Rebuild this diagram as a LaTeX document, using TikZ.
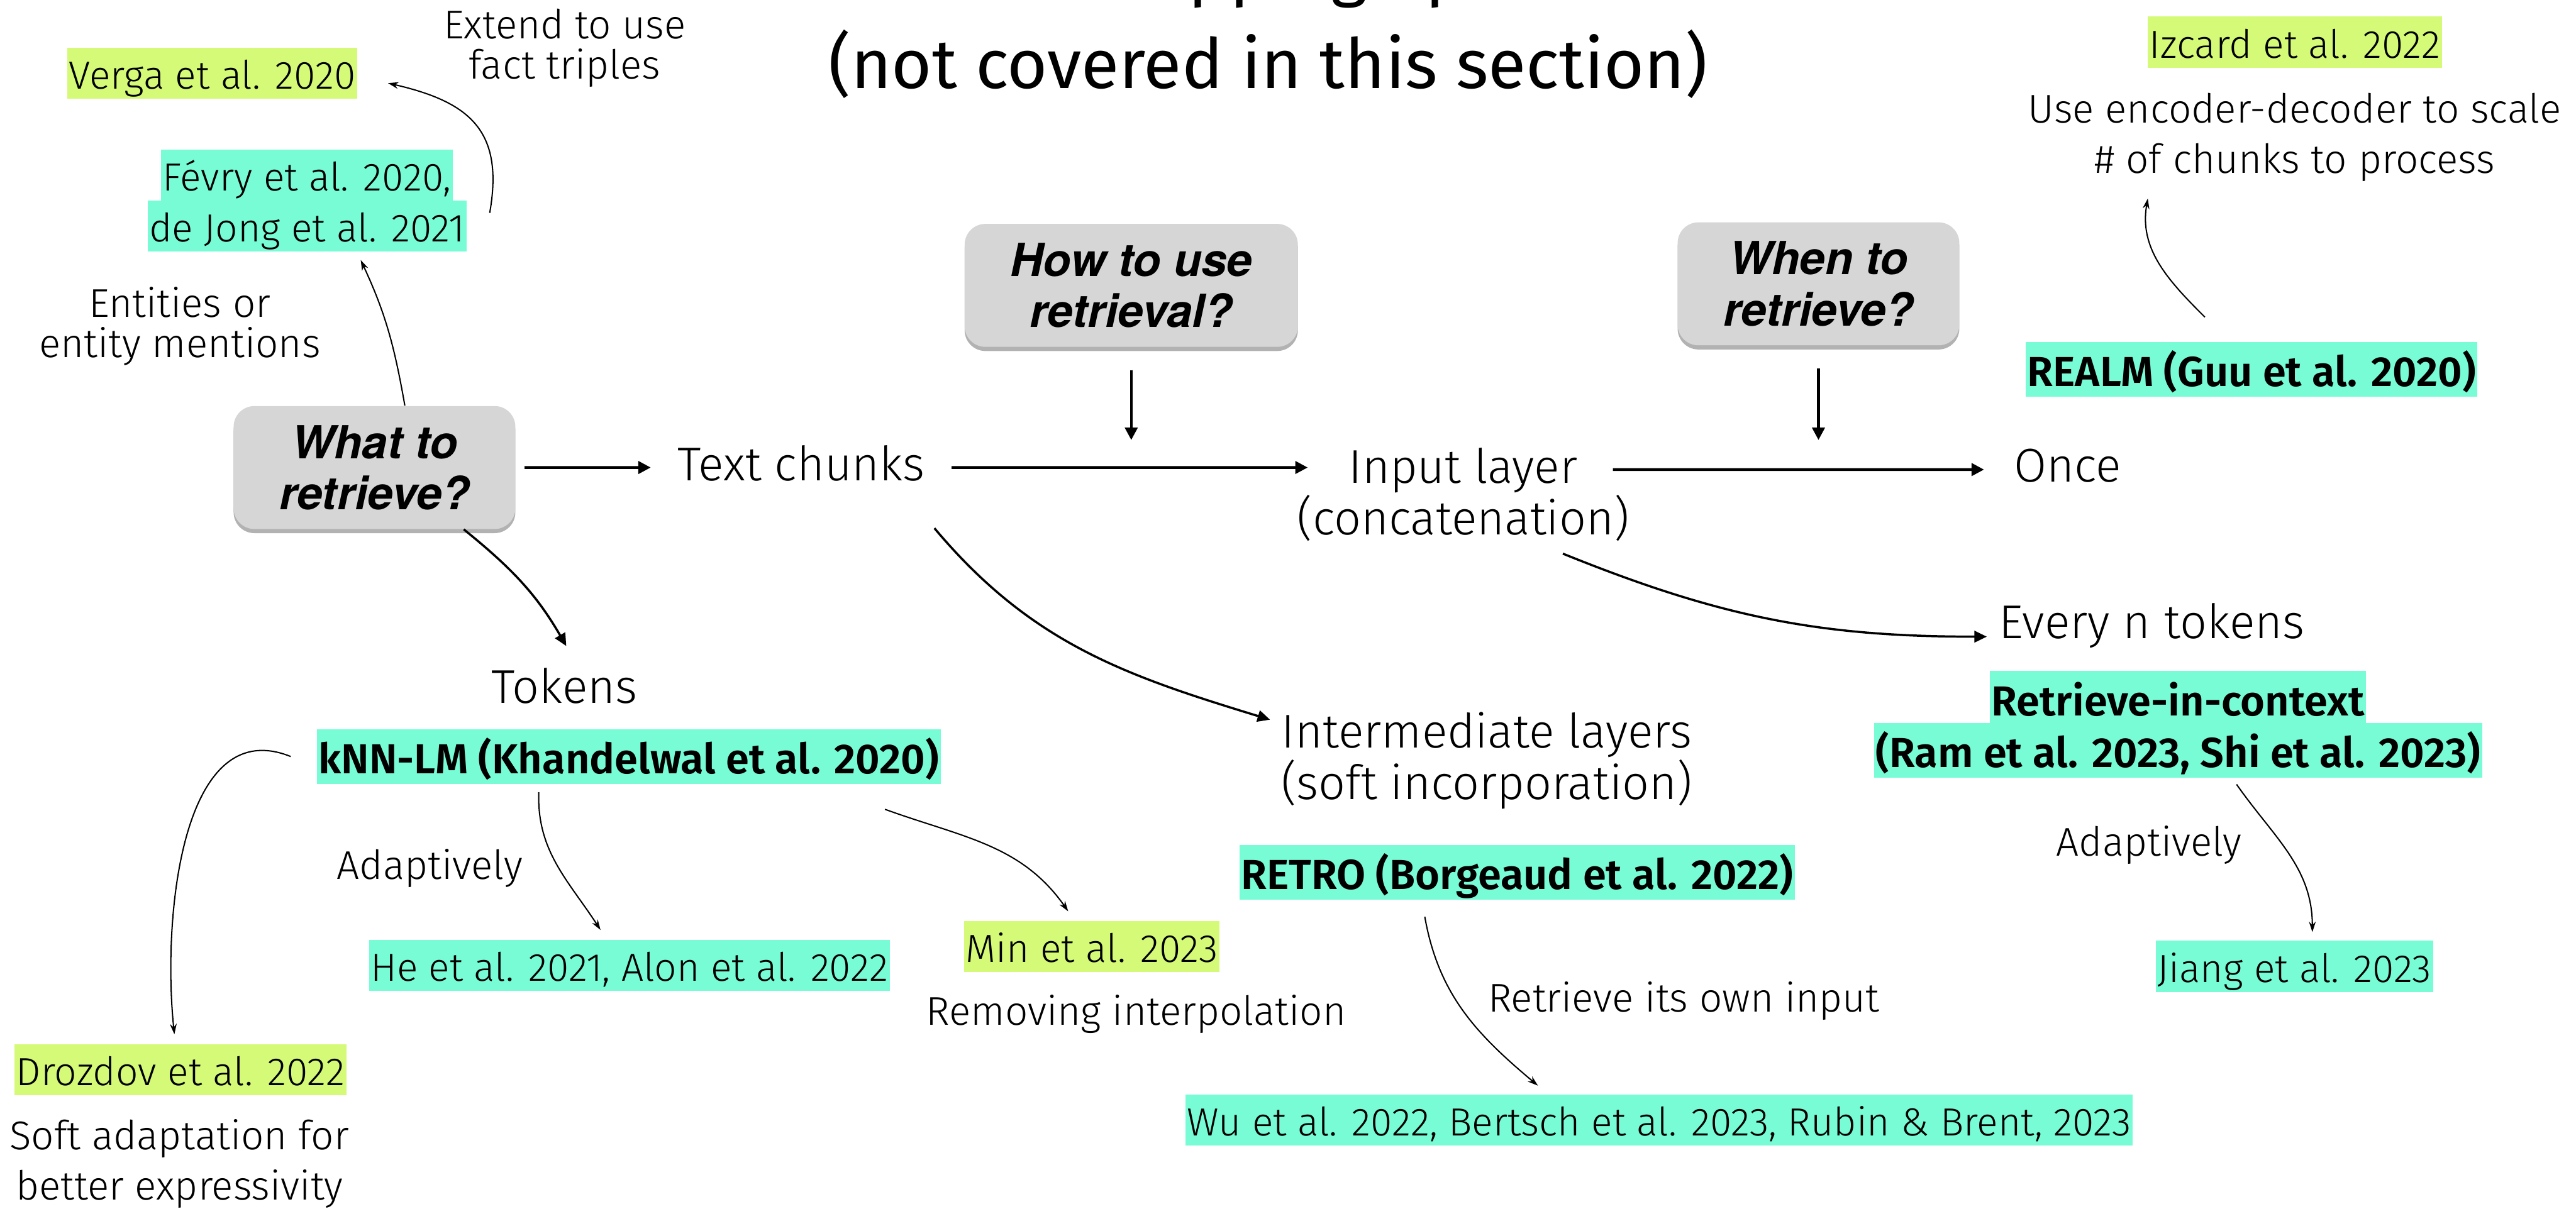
\documentclass[tikz,border=0pt]{standalone}
\usepackage{fontspec}
\IfFontExistsTF{Fira Sans Light}{\setmainfont{Fira Sans Light}}{%
  \IfFontExistsTF{Lato Light}{\setmainfont{Lato Light}}{%
    \IfFontExistsTF{Open Sans Light}{\setmainfont{Open Sans Light}}{\setmainfont{Fira Sans}}}}
\IfFontExistsTF{Fira Sans SemiBold}{\newfontfamily\heavyfont{Fira Sans SemiBold}}{\newfontfamily\heavyfont{Fira Sans}[FakeBold=1.5]}
\newfontfamily\titlefont{Fira Sans}
\newfontfamily\askfont{TeX Gyre Heros}
\usepackage{tikz}
\usetikzlibrary{arrows.meta,calc,shadows}

\definecolor{citeaqua}{HTML}{78FCD6}
\definecolor{citelime}{HTML}{D5FA78}
\definecolor{askgray}{HTML}{D6D6D6}

\tikzset{
    heading/.style={anchor=base,align=center,inner sep=0,font={\titlefont\fontsize{38}{52}\selectfont}},
    term/.style={anchor=base,align=center,inner sep=0,font={\fontsize{26}{28.5}\selectfont}},
    remark/.style={anchor=base,align=center,inner sep=0,font={\fontsize{22}{27.5}\selectfont}},
    tight remark/.style={remark,font={\fontsize{22}{22}\selectfont}},
    paper/.style={anchor=base,fill=citeaqua,inner xsep=0.03cm,inner ysep=0,
        text height=0.80cm,text depth=0.185cm,font={\fontsize{21.5}{21.5}\selectfont}},
    old paper/.style={paper,fill=citelime},
    key paper/.style={paper,text height=0.86cm,text depth=0.20cm,font={\heavyfont\fontsize{23}{23}\selectfont}},
    ask/.style={rounded corners=0.4cm,fill=askgray,align=center,minimum height=2.37cm,inner xsep=0.88cm,
        drop shadow={shadow xshift=0cm,shadow yshift=-0.08cm,fill=black,opacity=0.3},
        font={\askfont\bfseries\itshape\fontsize{25}{28}\selectfont}},
    flow/.style={line width=1.5pt,-{Triangle[length=0.24cm,width=0.24cm]}},
    bend flow/.style={line width=1.2pt,-{Triangle[length=0.24cm,width=0.22cm]}},
    cite link/.style={line width=0.7pt,-{Stealth[length=0.2cm,width=0.13cm]}},
}

\begin{document}
\begin{tikzpicture}
    \useasboundingbox (0,0) rectangle (49.63,-23.30);

    \node[heading] (title) at (24.43,-1.70) {Wrapping up\\(not covered in this section)};

    % the three questions
    \node[ask] (what) at (7.215,-9.01) {What to\\retrieve?};
    \node[ask] (how) at (21.795,-5.50) {How to use\\retrieval?};
    \node[ask] (when) at (35.035,-5.47) {When to\\retrieve?};

    \node[term] (chunks) at (15.435,-9.26) {Text chunks};
    \node[term] (tokens) at (10.875,-13.55) {Tokens};
    \node[term] (input) at (28.19,-10.31) {Input layer\\(concatenation)};
    \node[term] (inter) at (28.645,-15.41) {Intermediate layers\\(soft incorporation)};
    \node[term] (once) at (39.835,-9.29) {Once};
    \node[term] (every) at (41.46,-12.30) {Every n tokens};

    % papers
    \node[old paper] (verga) at (4.09,-1.72) {Verga et al. 2020};
    \node[paper] (fevry1) at (5.915,-3.68) {Févry et al. 2020,};
    \node[paper] (fevry2) at (5.915,-4.66) {de Jong et al. 2021};
    \node[key paper] (knn) at (12.115,-14.91) {kNN-LM (Khandelwal et al. 2020)};
    \node[paper] (he) at (12.125,-18.91) {He et al. 2021, Alon et al. 2022};
    \node[old paper] (min) at (21.035,-18.55) {Min et al. 2023};
    \node[old paper] (drozdov) at (3.48,-20.92) {Drozdov et al. 2022};
    \node[key paper] (retro) at (29.23,-17.14) {RETRO (Borgeaud et al. 2022)};
    \node[paper] (wu) at (31.965,-21.89) {Wu et al. 2022, Bertsch et al. 2023, Rubin \& Brent, 2023};
    \node[key paper] (realm) at (43.38,-7.45) {REALM (Guu et al. 2020)};
    \node[old paper] (izcard) at (44.215,-1.12) {Izcard et al. 2022};
    \node[key paper] (ric1) at (41.96,-13.79) {Retrieve-in-context};
    \node[key paper] (ric2) at (41.965,-14.79) {(Ram et al. 2023, Shi et al. 2023)};
    \node[paper] (jiang) at (44.205,-18.93) {Jiang et al. 2023};

    % remarks next to the links
    \node[tight remark] (extend) at (10.88,-1.52) {Extend to use\\fact triples};
    \node[tight remark] (entities) at (3.465,-6.89) {Entities or\\entity mentions};
    \node[remark] (encdec) at (44.21,-3.34) {Use encoder-decoder to scale\\\# of chunks to process};
    \node[remark] (adapt1) at (8.28,-16.94) {Adaptively};
    \node[remark] (removing) at (21.89,-19.75) {Removing interpolation};
    \node[remark] (soft) at (3.455,-23.12) {Soft adaptation for\\better expressivity};
    \node[remark] (ownin) at (32.44,-19.50) {Retrieve its own input};
    \node[remark] (adapt2) at (41.405,-16.50) {Adaptively};

    % main row
    \draw[flow] ($(what.east)+(0.17,0)$) -- ($(chunks.base west)+(-0.51,0.25)$);
    \draw[flow] ($(chunks.base east)+(0.51,0.25)$) -- ($(input.base west)+(0.21,1.30)$);
    \draw[flow] ($(input.base east)+(-0.32,1.26)$) -- ($(once.base west)+(-0.57,0.24)$);
    \draw[flow] ($(how.south)+(0,-0.44)$) -- ($(how.south |- chunks.base)+(0,0.78)$);
    \draw[flow] ($(when.south)+(0,-0.44)$) -- ($(when.south |- once.base)+(0,0.81)$);

    \draw[bend flow] ($(what.south)+(1.72,0)$) to[out=-39,in=120] ($(tokens.base)+(0.035,1.10)$);
    \draw[bend flow] ($(chunks.base east)+(0.18,-0.92)$) to[out=-50,in=163] ($(inter.base west)+(-0.21,1.54)$);
    \draw[bend flow] ($(input.base)+(1.92,-0.36)$) to[out=-22,in=180] ($(every.base west)+(-0.23,0.03)$);

    % links to papers
    \draw[cite link] ($(what.north)+(0.585,0)$) to[out=100,in=-65] ($(fevry2.south)+(1.035,-0.16)$);
    \draw[cite link] ($(fevry2.north east)+(0.44,-0.25)$) to[out=80,in=-13,looseness=1.3] ($(verga.east)+(0.59,-0.19)$);
    \draw[cite link] ($(realm.north)+(-0.9,0.47)$) to[out=135,in=-100] ($(encdec.south)+(-2.83,-0.32)$);
    \draw[cite link] ($(knn.west)+(-0.5,0)$) to[out=158,in=96] ($(drozdov.north)+(-0.12,0.18)$);
    \draw[cite link] ($(knn.south)+(-1.735,-0.15)$) to[out=-92,in=123] ($(he.north)+(-0.555,0.18)$);
    \draw[cite link] ($(knn.south)+(4.935,-0.48)$) to[out=-20,in=125] ($(min.north)+(-0.455,0.18)$);
    \draw[cite link] ($(retro.south)+(-1.78,-0.32)$) to[out=-80,in=140] ($(wu.north)+(-2.335,0.16)$);
    \draw[cite link] ($(ric2.south)+(1.125,-0.12)$) to[out=-55,in=90] ($(jiang.north)+(0.345,0.16)$);
\end{tikzpicture}
\end{document}
